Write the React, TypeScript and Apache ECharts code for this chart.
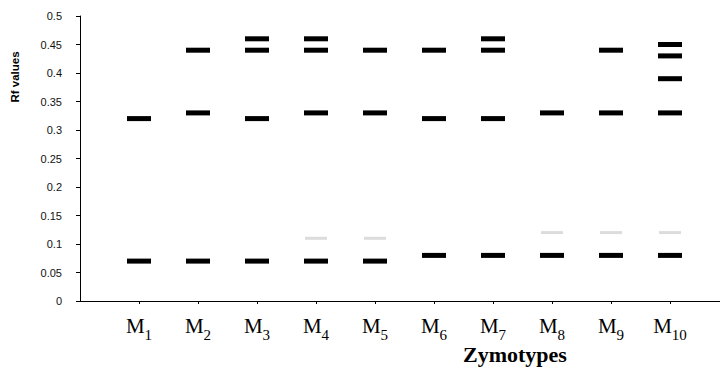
import React, { useEffect, useRef } from "react";
import * as echarts from "echarts";

const zymotypes = ["M1", "M2", "M3", "M4", "M5", "M6", "M7", "M8", "M9", "M10"];
const subscripts = ["1", "2", "3", "4", "5", "6", "7", "8", "9", "10"];

const m1Bands = [0.32, 0.07];
const m2Bands = [0.44, 0.33, 0.07];
const m3Bands = [0.46, 0.44, 0.32, 0.07];
const m4Bands = [0.46, 0.44, 0.33, 0.07];
const m5Bands = [0.44, 0.33, 0.07];
const m6Bands = [0.44, 0.32, 0.08];
const m7Bands = [0.46, 0.44, 0.32, 0.08];
const m8Bands = [0.33, 0.08];
const m9Bands = [0.44, 0.33, 0.08];
const m10Bands = [0.45, 0.43, 0.39, 0.33, 0.08];

// faint (weak) bands, null where none
const faintBands: (number | null)[] = [null, null, null, 0.11, 0.11, null, null, 0.12, 0.12, 0.12];

const yTicks = { min: 0, max: 0.5, interval: 0.05 };

export default function App() {
  const ref = useRef<HTMLDivElement>(null);
  useEffect(() => {
    if (!ref.current) return;
    const chart = echarts.init(ref.current, undefined, { renderer: "svg" });
    const allBands = [m1Bands, m2Bands, m3Bands, m4Bands, m5Bands, m6Bands, m7Bands, m8Bands, m9Bands, m10Bands];
    const strongData: number[][] = [];
    allBands.forEach((arr, i) => arr.forEach((v) => strongData.push([i + 1, v])));
    const faintData: number[][] = [];
    faintBands.forEach((v, i) => {
      if (v !== null) faintData.push([i + 1, v]);
    });

    chart.setOption({
      animation: false,
      backgroundColor: "#ffffff",
      grid: {
        left: 80,
        right: -9,
        top: 16,
        bottom: 66,
        containLabel: false,
        outerBoundsMode: "none",
        show: false,
      },
      title: {
        text: "Zymotypes",
        left: 463,
        top: 343,
        padding: 0,
        textStyle: {
          fontFamily: "Liberation Serif",
          fontWeight: "bold",
          fontSize: 22,
          color: "#000",
        },
      },
      graphic: [
        {
          type: "text",
          x: 15,
          y: 77,
          rotation: Math.PI / 2,
          style: {
            text: "Rf values",
            fontFamily: "Liberation Sans",
            fontWeight: "bold",
            fontSize: 11.5,
            fill: "#000",
            textAlign: "center",
            textVerticalAlign: "middle",
          },
        },
      ],
      xAxis: {
        type: "value",
        min: 0,
        max: 11,
        interval: 1,
        splitLine: { show: false },
        axisLine: { show: true, onZero: false, lineStyle: { color: "#000", width: 1 } },
        axisTick: { show: true, length: 3, lineStyle: { color: "#000" } },
        axisLabel: {
          showMinLabel: false,
          showMaxLabel: false,
          margin: 17,
          formatter: (v: number) => {
            const i = Math.round(v) - 1;
            if (i < 0 || i >= zymotypes.length || Math.abs(v - Math.round(v)) > 1e-6) return "";
            return `{m|M}{s|${subscripts[i]}}`;
          },
          rich: {
            m: {
              fontFamily: "Liberation Serif",
              fontSize: 21,
              lineHeight: 24,
              color: "#000",
              verticalAlign: "bottom",
              padding: [0, 0, 6, 0],
            },
            s: {
              fontFamily: "Liberation Serif",
              fontSize: 15,
              lineHeight: 18,
              color: "#000",
              verticalAlign: "bottom",
            },
          },
        },
      },
      yAxis: {
        type: "value",
        position: "left",
        min: yTicks.min,
        max: yTicks.max,
        interval: yTicks.interval,
        splitLine: { show: false },
        axisLine: { show: true, onZero: false, lineStyle: { color: "#000", width: 1 } },
        axisTick: { show: true, length: 4, lineStyle: { color: "#000" } },
        axisLabel: {
          margin: 18,
          fontFamily: "Liberation Sans",
          fontSize: 11,
          color: "#111",
        },
      },
      series: [
        {
          type: "scatter",
          symbol: "rect",
          symbolSize: [22, 3],
          itemStyle: { color: "#dcdcdc", opacity: 1 },
          data: faintData,
          silent: true,
        },
        {
          type: "scatter",
          symbol: "rect",
          symbolSize: [24, 5],
          itemStyle: { color: "#000000", opacity: 1 },
          data: strongData,
          silent: true,
        },
      ],
    });
    return () => chart.dispose();
  }, []);
  return <div ref={ref} style={{ width: 720, height: 367, position: "absolute", left: 0, top: 0, overflow: "hidden" }} />;
}
